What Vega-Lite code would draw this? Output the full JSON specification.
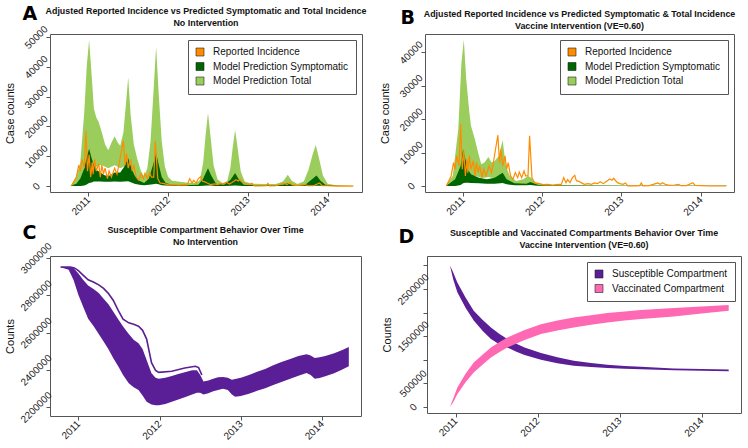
{
"$schema": "https://vega.github.io/schema/vega-lite/v6.json",
"background": "white",
"padding": {"left": 3, "top": 5, "right": 0, "bottom": 0},
"config": {
 "font": "Liberation Sans",
 "view": {"stroke": "#555", "strokeWidth": 1},
 "title": {"fontSize": 8.9, "fontWeight": "bold", "lineHeight": 12, "offset": 0, "color": "#111"},
 "axis": {"domain": false, "grid": false, "tickColor": "#555", "tickSize": 4, "labelFontSize": 10, "labelColor": "#222", "titleFontSize": 11, "titleFontWeight": "normal", "titleColor": "#111", "labelOverlap": false, "labelFlush": false, "tickCount": 20},
 "axisX": {"labelAngle": -45, "labelAlign": "right", "labelBaseline": "middle", "labelPadding": 2},
 "axisY": {"labelAngle": -45, "labelAlign": "center", "labelBaseline": "middle", "labelPadding": 10, "titlePadding": 5, "minExtent": 30, "maxExtent": 30},
 "legend": {"orient": "top-right", "offset": 6, "strokeColor": "#555", "fillColor": "white", "padding": 7, "symbolType": "square", "symbolSize": 64, "symbolStrokeColor": "#222", "symbolStrokeWidth": 0.6, "symbolOpacity": 1, "labelFontSize": 10, "labelColor": "#111", "labelOffset": 8, "rowPadding": 2.5, "labelLimit": 300, "title": null, "cornerRadius": 0}
},
"datasets": {
 "A_total": [
  {"year":2010.78,"lo":0,"hi":200},{"year":2010.85,"lo":0,"hi":3000},{"year":2010.90,"lo":200,"hi":8000},{"year":2010.95,"lo":500,"hi":25000},{"year":2010.98,"lo":1000,"hi":40000},{"year":2011.01,"lo":2000,"hi":49000},{"year":2011.04,"lo":3000,"hi":38000},{"year":2011.07,"lo":5000,"hi":26000},{"year":2011.10,"lo":6500,"hi":23000},{"year":2011.13,"lo":7000,"hi":21500},{"year":2011.17,"lo":7000,"hi":18000},{"year":2011.21,"lo":6500,"hi":14000},{"year":2011.25,"lo":6000,"hi":12000},{"year":2011.29,"lo":6500,"hi":14500},{"year":2011.33,"lo":7000,"hi":16700},{"year":2011.37,"lo":6500,"hi":14500},{"year":2011.40,"lo":6000,"hi":13500},{"year":2011.44,"lo":6500,"hi":18000},{"year":2011.47,"lo":7000,"hi":27000},{"year":2011.50,"lo":7000,"hi":36500},{"year":2011.53,"lo":5000,"hi":24000},{"year":2011.57,"lo":3000,"hi":14000},{"year":2011.61,"lo":1500,"hi":9500},{"year":2011.66,"lo":800,"hi":5000},{"year":2011.70,"lo":600,"hi":3200},{"year":2011.74,"lo":700,"hi":6000},{"year":2011.78,"lo":1000,"hi":15000},{"year":2011.82,"lo":1500,"hi":33000},{"year":2011.85,"lo":2000,"hi":46800},{"year":2011.88,"lo":1500,"hi":32000},{"year":2011.92,"lo":800,"hi":15000},{"year":2011.96,"lo":500,"hi":6500},{"year":2012.00,"lo":300,"hi":3000},{"year":2012.05,"lo":200,"hi":1800},{"year":2012.15,"lo":150,"hi":1400},{"year":2012.25,"lo":100,"hi":1100},{"year":2012.35,"lo":100,"hi":1000},{"year":2012.40,"lo":150,"hi":2000},{"year":2012.44,"lo":300,"hi":8000},{"year":2012.47,"lo":500,"hi":17000},{"year":2012.50,"lo":700,"hi":24500},{"year":2012.53,"lo":500,"hi":17000},{"year":2012.57,"lo":300,"hi":7000},{"year":2012.62,"lo":150,"hi":2200},{"year":2012.68,"lo":100,"hi":1000},{"year":2012.74,"lo":150,"hi":1500},{"year":2012.78,"lo":300,"hi":6000},{"year":2012.81,"lo":500,"hi":13000},{"year":2012.84,"lo":700,"hi":18800},{"year":2012.87,"lo":500,"hi":13000},{"year":2012.91,"lo":250,"hi":5000},{"year":2012.96,"lo":100,"hi":1500},{"year":2013.05,"lo":50,"hi":800},{"year":2013.20,"lo":50,"hi":700},{"year":2013.35,"lo":50,"hi":700},{"year":2013.44,"lo":100,"hi":1500},{"year":2013.50,"lo":200,"hi":3800},{"year":2013.55,"lo":100,"hi":1800},{"year":2013.62,"lo":50,"hi":700},{"year":2013.70,"lo":100,"hi":1500},{"year":2013.76,"lo":200,"hi":5500},{"year":2013.81,"lo":300,"hi":10500},{"year":2013.85,"lo":400,"hi":13800},{"year":2013.89,"lo":300,"hi":9500},{"year":2013.94,"lo":150,"hi":3500},{"year":2014.00,"lo":50,"hi":800},{"year":2014.10,"lo":20,"hi":300},{"year":2014.33,"lo":0,"hi":100}
 ],
 "A_sym": [
  {"year":2010.78,"lo":0,"hi":100},{"year":2010.85,"lo":0,"hi":800},{"year":2010.90,"lo":0,"hi":2500},{"year":2010.95,"lo":200,"hi":6000},{"year":2010.98,"lo":500,"hi":9500},{"year":2011.01,"lo":1000,"hi":12500},{"year":2011.04,"lo":1200,"hi":9500},{"year":2011.07,"lo":1500,"hi":7000},{"year":2011.10,"lo":1500,"hi":5500},{"year":2011.15,"lo":1500,"hi":4500},{"year":2011.21,"lo":1400,"hi":3500},{"year":2011.27,"lo":1400,"hi":3500},{"year":2011.33,"lo":1500,"hi":4500},{"year":2011.40,"lo":1400,"hi":4500},{"year":2011.45,"lo":1500,"hi":6500},{"year":2011.50,"lo":1600,"hi":9300},{"year":2011.54,"lo":1200,"hi":6000},{"year":2011.58,"lo":800,"hi":3500},{"year":2011.64,"lo":400,"hi":1800},{"year":2011.70,"lo":300,"hi":1000},{"year":2011.76,"lo":400,"hi":2500},{"year":2011.81,"lo":600,"hi":7000},{"year":2011.85,"lo":800,"hi":11000},{"year":2011.88,"lo":600,"hi":7500},{"year":2011.92,"lo":300,"hi":3000},{"year":2011.97,"lo":150,"hi":1000},{"year":2012.05,"lo":80,"hi":400},{"year":2012.20,"lo":50,"hi":300},{"year":2012.38,"lo":50,"hi":400},{"year":2012.44,"lo":100,"hi":2500},{"year":2012.50,"lo":200,"hi":6000},{"year":2012.54,"lo":150,"hi":3500},{"year":2012.60,"lo":50,"hi":800},{"year":2012.70,"lo":50,"hi":400},{"year":2012.78,"lo":100,"hi":2000},{"year":2012.84,"lo":200,"hi":4400},{"year":2012.89,"lo":100,"hi":2000},{"year":2012.95,"lo":30,"hi":400},{"year":2013.20,"lo":20,"hi":200},{"year":2013.44,"lo":30,"hi":400},{"year":2013.50,"lo":50,"hi":1000},{"year":2013.56,"lo":30,"hi":300},{"year":2013.72,"lo":30,"hi":400},{"year":2013.80,"lo":80,"hi":2200},{"year":2013.86,"lo":100,"hi":3500},{"year":2013.91,"lo":60,"hi":1800},{"year":2013.97,"lo":20,"hi":400},{"year":2014.10,"lo":0,"hi":100},{"year":2014.33,"lo":0,"hi":50}
 ],
 "rep": [
  {"year":2010.79,"value":0},{"year":2010.82,"value":1500},{"year":2010.85,"value":3000},{"year":2010.88,"value":7000},{"year":2010.90,"value":5000},{"year":2010.92,"value":9000},{"year":2010.95,"value":6000},{"year":2010.97,"value":18500},{"year":2010.99,"value":5000},{"year":2011.01,"value":10500},{"year":2011.03,"value":3000},{"year":2011.05,"value":8000},{"year":2011.06,"value":4000},{"year":2011.08,"value":9000},{"year":2011.10,"value":5000},{"year":2011.13,"value":7500},{"year":2011.15,"value":3000},{"year":2011.17,"value":7000},{"year":2011.19,"value":4000},{"year":2011.21,"value":6000},{"year":2011.24,"value":2500},{"year":2011.26,"value":5000},{"year":2011.29,"value":3000},{"year":2011.33,"value":6000},{"year":2011.36,"value":4000},{"year":2011.39,"value":8000},{"year":2011.41,"value":11000},{"year":2011.44,"value":15200},{"year":2011.46,"value":7000},{"year":2011.48,"value":11000},{"year":2011.50,"value":6000},{"year":2011.53,"value":9000},{"year":2011.55,"value":5000},{"year":2011.57,"value":7000},{"year":2011.60,"value":3000},{"year":2011.63,"value":2000},{"year":2011.66,"value":4000},{"year":2011.69,"value":2500},{"year":2011.71,"value":4200},{"year":2011.74,"value":2500},{"year":2011.77,"value":4500},{"year":2011.79,"value":3000},{"year":2011.82,"value":3000},{"year":2011.84,"value":15000},{"year":2011.87,"value":2500},{"year":2011.90,"value":1000},{"year":2011.95,"value":800},{"year":2012.01,"value":400},{"year":2012.07,"value":500},{"year":2012.13,"value":300},{"year":2012.20,"value":500},{"year":2012.24,"value":400},{"year":2012.27,"value":2500},{"year":2012.30,"value":1000},{"year":2012.32,"value":1900},{"year":2012.35,"value":1000},{"year":2012.38,"value":2500},{"year":2012.41,"value":3200},{"year":2012.43,"value":1600},{"year":2012.46,"value":1400},{"year":2012.49,"value":1000},{"year":2012.53,"value":500},{"year":2012.58,"value":700},{"year":2012.62,"value":500},{"year":2012.66,"value":900},{"year":2012.70,"value":700},{"year":2012.73,"value":1300},{"year":2012.77,"value":700},{"year":2012.80,"value":1200},{"year":2012.83,"value":1700},{"year":2012.85,"value":2100},{"year":2012.88,"value":1700},{"year":2012.90,"value":2300},{"year":2012.93,"value":1500},{"year":2012.95,"value":1000},{"year":2012.98,"value":700},{"year":2013.02,"value":500},{"year":2013.05,"value":900},{"year":2013.08,"value":50},{"year":2013.17,"value":50},{"year":2013.23,"value":100},{"year":2013.25,"value":900},{"year":2013.27,"value":50},{"year":2013.35,"value":100},{"year":2013.40,"value":500},{"year":2013.43,"value":700},{"year":2013.46,"value":900},{"year":2013.49,"value":500},{"year":2013.52,"value":1000},{"year":2013.56,"value":400},{"year":2013.61,"value":200},{"year":2013.67,"value":300},{"year":2013.72,"value":500},{"year":2013.75,"value":100},{"year":2013.82,"value":100},{"year":2013.90,"value":1000},{"year":2013.93,"value":150},{"year":2014.00,"value":100},{"year":2014.11,"value":0},{"year":2014.32,"value":0}
 ],
 "B_total": [
  {"year":2010.79,"lo":0,"hi":500},{"year":2010.87,"lo":0,"hi":3000},{"year":2010.94,"lo":300,"hi":17000},{"year":2010.98,"lo":800,"hi":37000},{"year":2011.01,"lo":1500,"hi":43800},{"year":2011.04,"lo":2000,"hi":32000},{"year":2011.08,"lo":2500,"hi":22000},{"year":2011.10,"lo":2800,"hi":18000},{"year":2011.15,"lo":3000,"hi":14000},{"year":2011.19,"lo":2800,"hi":10000},{"year":2011.23,"lo":2500,"hi":6500},{"year":2011.27,"lo":2500,"hi":7000},{"year":2011.32,"lo":2700,"hi":8700},{"year":2011.36,"lo":2500,"hi":7000},{"year":2011.40,"lo":2300,"hi":7500},{"year":2011.45,"lo":2500,"hi":9000},{"year":2011.50,"lo":3000,"hi":13700},{"year":2011.54,"lo":1500,"hi":6000},{"year":2011.59,"lo":700,"hi":3000},{"year":2011.67,"lo":300,"hi":1500},{"year":2011.76,"lo":300,"hi":2000},{"year":2011.82,"lo":400,"hi":3000},{"year":2011.86,"lo":300,"hi":2500},{"year":2011.92,"lo":150,"hi":1000},{"year":2012.01,"lo":50,"hi":400},{"year":2012.20,"lo":30,"hi":200},{"year":2013.00,"lo":10,"hi":150},{"year":2014.33,"lo":0,"hi":100}
 ],
 "B_sym": [
  {"year":2010.79,"lo":0,"hi":100},{"year":2010.90,"lo":0,"hi":2000},{"year":2010.97,"lo":300,"hi":6000},{"year":2011.00,"lo":800,"hi":11000},{"year":2011.03,"lo":1000,"hi":8000},{"year":2011.06,"lo":1000,"hi":5000},{"year":2011.10,"lo":900,"hi":3500},{"year":2011.20,"lo":800,"hi":2500},{"year":2011.30,"lo":700,"hi":2000},{"year":2011.40,"lo":700,"hi":2500},{"year":2011.47,"lo":800,"hi":3500},{"year":2011.50,"lo":900,"hi":4000},{"year":2011.55,"lo":500,"hi":2000},{"year":2011.65,"lo":200,"hi":800},{"year":2011.80,"lo":200,"hi":700},{"year":2011.85,"lo":300,"hi":1200},{"year":2011.95,"lo":100,"hi":300},{"year":2012.05,"lo":30,"hi":150},{"year":2013.00,"lo":10,"hi":100},{"year":2014.33,"lo":0,"hi":50}
 ],
 "C_band": [
  {"year":2010.78,"lo":2951000,"hi":2952000},{"year":2010.88,"lo":2937000,"hi":2952000},{"year":2010.94,"lo":2882000,"hi":2947000},{"year":2011.00,"lo":2802000,"hi":2917000},{"year":2011.06,"lo":2737000,"hi":2882000},{"year":2011.12,"lo":2674000,"hi":2852000},{"year":2011.19,"lo":2632000,"hi":2832000},{"year":2011.25,"lo":2592000,"hi":2812000},{"year":2011.31,"lo":2552000,"hi":2782000},{"year":2011.37,"lo":2510000,"hi":2752000},{"year":2011.43,"lo":2462000,"hi":2712000},{"year":2011.49,"lo":2419000,"hi":2672000},{"year":2011.55,"lo":2372000,"hi":2632000},{"year":2011.62,"lo":2328000,"hi":2592000},{"year":2011.68,"lo":2307000,"hi":2562000},{"year":2011.74,"lo":2292000,"hi":2542000},{"year":2011.79,"lo":2262000,"hi":2512000},{"year":2011.84,"lo":2228000,"hi":2452000},{"year":2011.90,"lo":2214000,"hi":2382000},{"year":2011.95,"lo":2210000,"hi":2357000},{"year":2011.99,"lo":2210000,"hi":2352000},{"year":2012.07,"lo":2217000,"hi":2357000},{"year":2012.15,"lo":2228000,"hi":2367000},{"year":2012.23,"lo":2240000,"hi":2377000},{"year":2012.31,"lo":2252000,"hi":2387000},{"year":2012.40,"lo":2267000,"hi":2397000},{"year":2012.46,"lo":2277000,"hi":2397000},{"year":2012.50,"lo":2277000,"hi":2372000},{"year":2012.54,"lo":2267000,"hi":2337000},{"year":2012.60,"lo":2274000,"hi":2342000},{"year":2012.66,"lo":2285000,"hi":2352000},{"year":2012.72,"lo":2292000,"hi":2360000},{"year":2012.78,"lo":2298000,"hi":2362000},{"year":2012.84,"lo":2292000,"hi":2357000},{"year":2012.89,"lo":2267000,"hi":2347000},{"year":2012.93,"lo":2256000,"hi":2350000},{"year":2013.00,"lo":2260000,"hi":2357000},{"year":2013.10,"lo":2272000,"hi":2372000},{"year":2013.20,"lo":2287000,"hi":2389000},{"year":2013.30,"lo":2301000,"hi":2405000},{"year":2013.40,"lo":2318000,"hi":2424000},{"year":2013.50,"lo":2334000,"hi":2442000},{"year":2013.60,"lo":2350000,"hi":2457000},{"year":2013.71,"lo":2368000,"hi":2474000},{"year":2013.81,"lo":2383000,"hi":2483000},{"year":2013.86,"lo":2372000,"hi":2477000},{"year":2013.91,"lo":2352000,"hi":2464000},{"year":2013.97,"lo":2356000,"hi":2467000},{"year":2014.04,"lo":2365000,"hi":2474000},{"year":2014.15,"lo":2382000,"hi":2489000},{"year":2014.25,"lo":2402000,"hi":2507000},{"year":2014.33,"lo":2419000,"hi":2523000}
 ],
 "C_top": [
  {"year":2010.78,"value":2952000},{"year":2010.90,"value":2952000},{"year":2010.95,"value":2947000},{"year":2011.00,"value":2932000},{"year":2011.06,"value":2907000},{"year":2011.12,"value":2883000},{"year":2011.19,"value":2870000},{"year":2011.25,"value":2856000},{"year":2011.31,"value":2837000},{"year":2011.37,"value":2810000},{"year":2011.43,"value":2772000},{"year":2011.49,"value":2719000},{"year":2011.55,"value":2672000},{"year":2011.62,"value":2652000},{"year":2011.68,"value":2644000},{"year":2011.74,"value":2634000},{"year":2011.79,"value":2612000},{"year":2011.84,"value":2565000},{"year":2011.90,"value":2438000},{"year":2011.95,"value":2397000},{"year":2011.99,"value":2386000},{"year":2012.15,"value":2392000},{"year":2012.31,"value":2410000},{"year":2012.44,"value":2419000},{"year":2012.48,"value":2412000},{"year":2012.52,"value":2372000}
 ],
 "D_sus": [
  {"year":2010.79,"lo":3000000,"hi":3000000},{"year":2010.93,"lo":3000000,"hi":3000000},{"year":2010.97,"lo":2700000,"hi":2850000},{"year":2011.02,"lo":2430000,"hi":2640000},{"year":2011.12,"lo":2100000,"hi":2320000},{"year":2011.22,"lo":1830000,"hi":2040000},{"year":2011.33,"lo":1610000,"hi":1840000},{"year":2011.43,"lo":1437000,"hi":1684000},{"year":2011.53,"lo":1330000,"hi":1550000},{"year":2011.63,"lo":1260000,"hi":1437000},{"year":2011.74,"lo":1170000,"hi":1340000},{"year":2011.84,"lo":1098000,"hi":1260000},{"year":2012.04,"lo":998000,"hi":1140000},{"year":2012.24,"lo":925000,"hi":1050000},{"year":2012.44,"lo":870000,"hi":977000},{"year":2012.65,"lo":845000,"hi":930000},{"year":2012.85,"lo":825000,"hi":892000},{"year":2013.06,"lo":810000,"hi":868000},{"year":2013.26,"lo":800000,"hi":850000},{"year":2013.66,"lo":775000,"hi":815000},{"year":2014.00,"lo":765000,"hi":805000},{"year":2014.33,"lo":758000,"hi":795000}
 ],
 "D_vac": [
  {"year":2010.79,"lo":0,"hi":0},{"year":2010.93,"lo":0,"hi":0},{"year":2010.97,"lo":100000,"hi":180000},{"year":2011.02,"lo":270000,"hi":410000},{"year":2011.12,"lo":520000,"hi":700000},{"year":2011.22,"lo":728000,"hi":940000},{"year":2011.33,"lo":900000,"hi":1110000},{"year":2011.43,"lo":1047000,"hi":1260000},{"year":2011.53,"lo":1160000,"hi":1370000},{"year":2011.63,"lo":1260000,"hi":1471000},{"year":2011.84,"lo":1420000,"hi":1630000},{"year":2012.04,"lo":1543000,"hi":1755000},{"year":2012.24,"lo":1620000,"hi":1830000},{"year":2012.44,"lo":1684000,"hi":1897000},{"year":2012.65,"lo":1740000,"hi":1945000},{"year":2012.85,"lo":1790000,"hi":1990000},{"year":2013.06,"lo":1830000,"hi":2025000},{"year":2013.26,"lo":1862000,"hi":2053000},{"year":2013.66,"lo":1917000,"hi":2095000},{"year":2014.00,"lo":1980000,"hi":2130000},{"year":2014.33,"lo":2038000,"hi":2159000}
 ]
},
"resolve": {"scale": {"color": "independent"}, "legend": {"color": "independent"}},
"spacing": 6,
"vconcat": [
 {
  "spacing": 11,
  "resolve": {"scale": {"color": "independent"}, "legend": {"color": "independent"}},
  "hconcat": [
   {
    "title": {"text": "A", "anchor": "start", "font": "DejaVu Sans", "fontSize": 19, "fontWeight": "bold", "offset": -18, "dx": 19, "color": "#000"},
    "resolve": {"scale": {"color": "independent"}, "legend": {"color": "independent"}},
    "vconcat": [{
     "title": {"text": ["Adjusted Reported Incidence vs Predicted Symptomatic and Total Incidence", "No Intervention"], "offset": -4},
     "width": 312, "height": 158,
     "layer": [
      {"data": {"name": "A_total"}, "mark": {"type": "area", "clip": true},
       "encoding": {
        "x": {"field": "year", "type": "quantitative", "scale": {"domain": [2010.52, 2014.43], "nice": false, "zero": false}, "axis": {"values": [2011, 2012, 2013, 2014], "format": "d", "title": null}},
        "y": {"field": "hi", "type": "quantitative", "scale": {"domain": [-2000, 51000], "nice": false, "zero": false}, "axis": {"values": [0, 10000, 20000, 30000, 40000, 50000], "format": "d", "title": "Case counts", "labelOverlap": false, "tickCount": 20}},
        "y2": {"field": "lo"},
        "color": {"datum": "Model Prediction Total", "scale": {"domain": ["Reported Incidence", "Model Prediction Symptomatic", "Model Prediction Total"], "range": ["#FF8C00", "#006400", "#9ACD5B"]}}
       }},
      {"data": {"name": "A_sym"}, "mark": {"type": "area", "clip": true},
       "encoding": {
        "x": {"field": "year", "type": "quantitative"},
        "y": {"field": "hi", "type": "quantitative"},
        "y2": {"field": "lo"},
        "color": {"datum": "Model Prediction Symptomatic"}
       }},
      {"data": {"name": "rep"}, "mark": {"type": "line", "color": "#FF8C00", "strokeWidth": 1.2, "clip": true},
       "encoding": {
        "x": {"field": "year", "type": "quantitative"},
        "y": {"field": "value", "type": "quantitative"}
       }}
     ]
    }]
   },
   {
    "title": {"text": "B", "anchor": "start", "font": "DejaVu Sans", "fontSize": 19, "fontWeight": "bold", "offset": -18, "dx": 22, "color": "#000"},
    "resolve": {"scale": {"color": "independent"}, "legend": {"color": "independent"}},
    "vconcat": [{
     "title": {"text": ["Adjusted Reported Incidence vs Predicted Symptomatic & Total Incidence", "Vaccine Intervention (VE=0.60)"], "offset": 3},
     "width": 309, "height": 158,
     "layer": [
      {"data": {"name": "B_total"}, "mark": {"type": "area", "clip": true},
       "encoding": {
        "x": {"field": "year", "type": "quantitative", "scale": {"domain": [2010.52, 2014.42], "nice": false, "zero": false}, "axis": {"values": [2011, 2012, 2013, 2014], "format": "d", "title": null}},
        "y": {"field": "hi", "type": "quantitative", "scale": {"domain": [-1800, 45500], "nice": false, "zero": false}, "axis": {"values": [0, 10000, 20000, 30000, 40000], "format": "d", "title": "Case counts", "labelOverlap": false, "tickCount": 20}},
        "y2": {"field": "lo"},
        "color": {"datum": "Model Prediction Total", "scale": {"domain": ["Reported Incidence", "Model Prediction Symptomatic", "Model Prediction Total"], "range": ["#FF8C00", "#006400", "#9ACD5B"]}}
       }},
      {"data": {"name": "B_sym"}, "mark": {"type": "area", "clip": true},
       "encoding": {
        "x": {"field": "year", "type": "quantitative"},
        "y": {"field": "hi", "type": "quantitative"},
        "y2": {"field": "lo"},
        "color": {"datum": "Model Prediction Symptomatic"}
       }},
      {"data": {"name": "rep"}, "mark": {"type": "line", "color": "#FF8C00", "strokeWidth": 1.2, "clip": true},
       "encoding": {
        "x": {"field": "year", "type": "quantitative"},
        "y": {"field": "value", "type": "quantitative"}
       }}
     ]
    }]
   }
  ]
 },
 {
  "spacing": 18,
  "resolve": {"scale": {"color": "independent"}, "legend": {"color": "independent"}},
  "hconcat": [
   {
    "title": {"text": "C", "anchor": "start", "font": "DejaVu Sans", "fontSize": 19, "fontWeight": "bold", "offset": -18, "dx": 19, "color": "#000"},
    "vconcat": [{
     "title": {"text": ["Susceptible Compartment Behavior Over Time", "No Intervention"], "offset": -6},
     "width": 311, "height": 160,
     "layer": [
      {"data": {"name": "C_band"}, "mark": {"type": "area", "color": "#5A1F96", "clip": true},
       "encoding": {
        "x": {"field": "year", "type": "quantitative", "scale": {"domain": [2010.65, 2014.48], "nice": false, "zero": false}, "axis": {"values": [2011, 2012, 2013, 2014], "format": "d", "title": null}},
        "y": {"field": "hi", "type": "quantitative", "scale": {"domain": [2152000, 3011000], "nice": false, "zero": false}, "axis": {"values": [2200000, 2400000, 2600000, 2800000, 3000000], "format": "d", "title": "Counts", "labelOverlap": false, "tickCount": 20}},
        "y2": {"field": "lo"}
       }},
      {"data": {"name": "C_top"}, "mark": {"type": "line", "color": "#5A1F96", "strokeWidth": 1.6, "clip": true},
       "encoding": {
        "x": {"field": "year", "type": "quantitative"},
        "y": {"field": "value", "type": "quantitative"}
       }}
     ]
    }]
   },
   {
    "title": {"text": "D", "anchor": "start", "font": "DejaVu Sans", "fontSize": 19, "fontWeight": "bold", "offset": -18, "dx": 18, "color": "#000"},
    "resolve": {"scale": {"color": "independent"}, "legend": {"color": "independent"}},
    "vconcat": [{
     "title": {"text": ["Susceptible and Vaccinated Compartments Behavior Over Time", "Vaccine Intervention (VE=0.60)"], "offset": 6},
     "width": 314, "height": 157,
     "layer": [
      {"data": {"name": "D_sus"}, "mark": {"type": "area", "clip": true},
       "encoding": {
        "x": {"field": "year", "type": "quantitative", "scale": {"domain": [2010.65, 2014.48], "nice": false, "zero": false}, "axis": {"values": [2011, 2012, 2013, 2014], "format": "d", "title": null}},
        "y": {"field": "hi", "type": "quantitative", "scale": {"domain": [-130000, 3200000], "nice": false, "zero": false}, "axis": {"values": [0, 500000, 1000000, 1500000, 2000000, 2500000, 3000000], "format": "d", "labelOverlap": false, "tickCount": 20, "labelExpr": "datum.value == 0 || datum.value == 500000 || datum.value == 1500000 || datum.value == 2500000 ? datum.label : ''", "title": "Counts"}},
        "y2": {"field": "lo"},
        "color": {"datum": "Susceptible Compartment", "scale": {"domain": ["Susceptible Compartment", "Vaccinated Compartment"], "range": ["#5A1F96", "#FF69B4"]}}
       }},
      {"data": {"name": "D_vac"}, "mark": {"type": "area", "clip": true},
       "encoding": {
        "x": {"field": "year", "type": "quantitative"},
        "y": {"field": "hi", "type": "quantitative"},
        "y2": {"field": "lo"},
        "color": {"datum": "Vaccinated Compartment"}
       }}
     ]
    }]
   }
  ]
 }
]
}
